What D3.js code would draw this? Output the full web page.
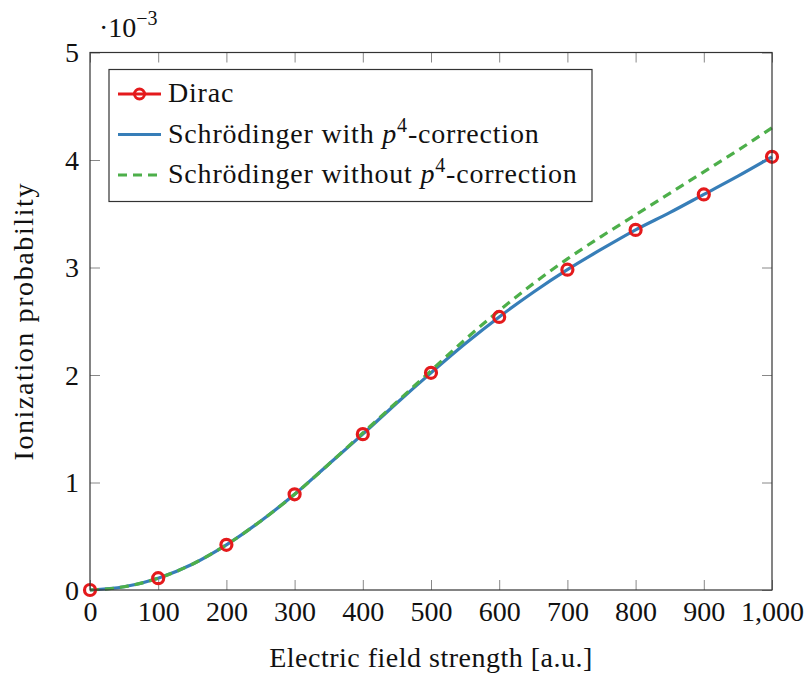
<!DOCTYPE html>
<html>
<head>
<meta charset="utf-8">
<script src="https://cdn.jsdelivr.net/npm/d3@7"></script>
<style>
  body { margin: 0; background: #fff; }
</style>
</head>
<body>
<svg width="808" height="679"></svg>
<script>
// field strength [a.u.] and ionization probability (x 1e-3)
const diracX = [0, 100, 200, 300, 400, 500, 600, 700, 800, 900, 1000]
const diracY = [0, 0.11, 0.42, 0.89, 1.45, 2.02, 2.54, 2.98, 3.35, 3.68, 4.03]

const schrX = [0, 50, 100, 150, 200, 250, 300, 350, 400, 450, 500, 550, 600, 650, 700, 750, 800, 850, 900, 950, 1000]
const withP4 = [0, 0.03, 0.11, 0.24, 0.42, 0.64, 0.89, 1.17, 1.45, 1.74, 2.02, 2.29, 2.54, 2.77, 2.98, 3.17, 3.35, 3.51, 3.68, 3.85, 4.03]
const withoutP4 = [0, 0.03, 0.11, 0.24, 0.42, 0.64, 0.89, 1.17, 1.46, 1.75, 2.04, 2.33, 2.60, 2.85, 3.08, 3.29, 3.49, 3.69, 3.89, 4.09, 4.30]

const xTicks = [0, 100, 200, 300, 400, 500, 600, 700, 800, 900, 1000]
const yTicks = [0, 1, 2, 3, 4, 5]

const red = "#e41a1c", blue = "#377eb8", green = "#4daf4a"
const serif = '"Liberation Serif", "DejaVu Serif", serif'

let margin = {top: 52.5, left: 90, right: 36, bottom: 89}
let width = 808 - margin.left - margin.right
let height = 679 - margin.top - margin.bottom

let svg = d3.select("svg")
let g = svg.append("g").attr("transform", "translate(" + margin.left + "," + margin.top + ")")

let x = d3.scaleLinear().domain([0, 1000]).range([0, width])
let y = d3.scaleLinear().domain([0, 5]).range([height, 0])

// ticks on all four sides, pointing inward
g.append("g").attr("transform", "translate(0," + height + ")")
    .call(d3.axisBottom(x).tickValues(xTicks).tickSizeInner(-10).tickSizeOuter(0).tickFormat(d3.format(",")))
    .attr("class", "gX")
g.append("g").call(d3.axisTop(x).tickValues(xTicks).tickSizeInner(-10).tickSizeOuter(0).tickFormat(""))
    .attr("class", "gXt")
g.append("g").call(d3.axisLeft(y).tickValues(yTicks).tickSizeInner(-10).tickSizeOuter(0).tickFormat(d3.format("d")))
    .attr("class", "gY")
g.append("g").attr("transform", "translate(" + width + ",0)")
    .call(d3.axisRight(y).tickValues(yTicks).tickSizeInner(-10).tickSizeOuter(0).tickFormat(""))
    .attr("class", "gYr")

g.selectAll(".domain").remove()
g.selectAll(".tick line").attr("stroke", "#888").attr("stroke-width", 1)
g.selectAll(".tick text").attr("font-family", serif).attr("font-size", 28).attr("fill", "#111")
g.select(".gX").selectAll(".tick text").attr("dy", null).attr("y", 31)
g.select(".gY").selectAll(".tick text").attr("x", -11).attr("dy", "0.33em")

let line = d3.line().x(d => x(d[0])).y(d => y(d[1])).curve(d3.curveMonotoneX)

g.append("path").datum(schrX.map((v, i) => [v, withP4[i]]))
    .attr("d", line).attr("fill", "none").attr("stroke", blue).attr("stroke-width", 3.2)
g.append("path").datum(schrX.map((v, i) => [v, withoutP4[i]]))
    .attr("d", line).attr("fill", "none").attr("stroke", green).attr("stroke-width", 3.2)
    .attr("stroke-dasharray", "9,6")

g.append("g").selectAll("circle").data(diracX.map((v, i) => [v, diracY[i]]))
    .enter().append("circle")
    .attr("cx", d => x(d[0])).attr("cy", d => y(d[1])).attr("r", 5.5)
    .attr("fill", "none").attr("stroke", red).attr("stroke-width", 3.2)

// frame
g.append("rect").attr("width", width).attr("height", height)
    .attr("fill", "none").attr("stroke", "#333").attr("stroke-width", 1.2)

// scale factor
let sf = svg.append("text").attr("x", 99).attr("y", 37)
    .attr("font-family", serif).attr("font-size", 28).attr("fill", "#111")
sf.append("tspan").text("·10")
sf.append("tspan").attr("dy", -12).attr("font-size", 20).text("−3")

// axis labels
svg.append("text").attr("x", margin.left + width / 2).attr("y", 667)
    .attr("text-anchor", "middle").attr("font-family", serif).attr("font-size", 28).attr("fill", "#111")
    .attr("letter-spacing", 0.5)
    .text("Electric field strength [a.u.]")
svg.append("text").attr("transform", "translate(24," + (margin.top + height / 2) + ") rotate(-90)")
    .attr("text-anchor", "middle").attr("dy", "0.33em")
    .attr("font-family", serif).attr("font-size", 28).attr("fill", "#111")
    .attr("letter-spacing", 1.6)
    .text("Ionization probability")

// legend
let lg = svg.append("g").attr("transform", "translate(109,69.5)")
lg.append("rect").attr("width", 483).attr("height", 132)
    .attr("fill", "#fff").attr("stroke", "#333").attr("stroke-width", 1.2)
let items = [
    {name: "Dirac", color: red, dash: null, marker: true},
    {name: "Schrödinger with ", color: blue, dash: null, marker: false},
    {name: "Schrödinger without ", color: green, dash: "9,6", marker: false}
]
items.forEach(function (it, i) {
    let cy = 24.5 + i * 40.5
    lg.append("line").attr("x1", 9).attr("x2", 52).attr("y1", cy).attr("y2", cy)
        .attr("stroke", it.color).attr("stroke-width", 3.2).attr("stroke-dasharray", it.dash)
    if (it.marker) {
        lg.append("circle").attr("cx", 30.5).attr("cy", cy).attr("r", 5)
            .attr("fill", "none").attr("stroke", it.color).attr("stroke-width", 3)
    }
    let t = lg.append("text").attr("x", 59).attr("y", cy + 8)
        .attr("font-family", serif).attr("font-size", 28).attr("fill", "#111")
        .attr("letter-spacing", 0.8)
    t.append("tspan").text(it.name)
    if (!it.marker) {
        t.append("tspan").attr("font-style", "italic").text("p")
        t.append("tspan").attr("dy", -11).attr("font-size", 20).text("4")
        t.append("tspan").attr("dy", 11).text("-correction")
    }
})
</script>
</body>
</html>
